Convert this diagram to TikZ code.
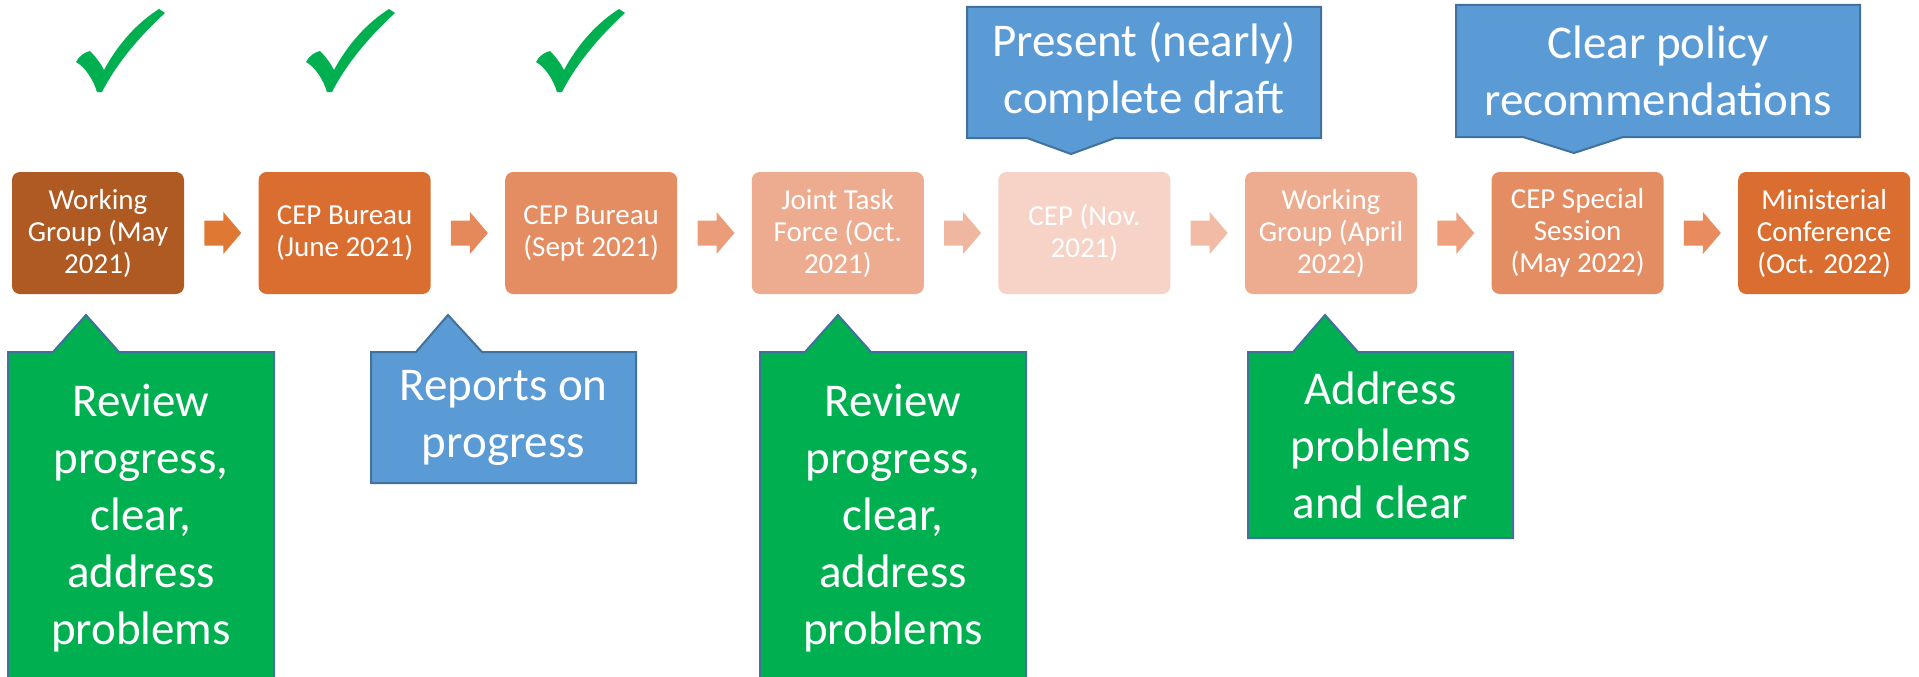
\documentclass[tikz,border=0pt]{standalone}
\usepackage{fontspec}
\setmainfont{Carlito}
\usetikzlibrary{calc}
\definecolor{cA}{HTML}{AE5A22}
\definecolor{cB}{HTML}{D96E30}
\definecolor{cC}{HTML}{E48C62}
\definecolor{cD}{HTML}{EDAB8F}
\definecolor{cE}{HTML}{F6D3C6}
\definecolor{aA}{HTML}{DF7833}
\definecolor{aB}{HTML}{E5895B}
\definecolor{aC}{HTML}{EB9D7A}
\definecolor{aD}{HTML}{F0B7A0}
\definecolor{aE}{HTML}{F2BBA6}
\definecolor{aF}{HTML}{EEA07F}
\definecolor{aG}{HTML}{E88B5E}
\definecolor{cblue}{HTML}{5B9BD5}
\definecolor{cgreen}{HTML}{00B050}
\definecolor{cedge}{HTML}{41719C}
\begin{document}
\begin{tikzpicture}[x=1pt,y=-1pt,
  stage/.style={rounded corners=8pt, minimum width=172pt, minimum height=122pt,
    align=center, text=white, font=\fontsize{29}{32}\selectfont, inner sep=0pt},
  calltext/.style={align=center, text=white, font=\fontsize{47}{57}\selectfont, inner sep=0pt},
  bluecall/.style={fill=cblue, draw=cedge, line width=2pt},
  greencall/.style={fill=cgreen, draw=cedge, line width=2pt},
  checkmk/.style={fill=cgreen}]
\clip (0,0) rectangle (1919,677);
\fill[white] (0,0) rectangle (1919,677);

% stages
\node[stage, fill=cA] (s1) at (98,233)     {Working\\Group (May\\2021)};
\node[stage, fill=cB] (s2) at (344.6,233)  {CEP Bureau\\(June 2021)};
\node[stage, fill=cC] (s3) at (591.2,233)  {CEP Bureau\\(Sept 2021)};
\node[stage, fill=cD] (s4) at (837.8,233)  {Joint Task\\Force (Oct.\\2021)};
\node[stage, fill=cE] (s5) at (1084.4,233) {CEP (Nov.\\2021)};
\node[stage, fill=cD] (s6) at (1331,233)   {Working\\Group (April\\2022)};
\node[stage, fill=cC] (s7) at (1577.6,233) {CEP Special\\Session\\(May 2022)};
\node[stage, fill=cB] (s8) at (1824.2,233) {Ministerial\\Conference\\(Oct. 2022)};

% arrows
\foreach \a/\b/\c in {s1/s2/aA, s2/s3/aB, s3/s4/aC, s4/s5/aD, s5/s6/aE, s6/s7/aF, s7/s8/aG}{
  \coordinate (m) at ($(\a.east)!0.5!(\b.west)$);
  \begin{scope}[shift={(m)}]
    \fill[\c] (-17,-12.5) -- (2,-12.5) -- (2,-21) -- (20,0) -- (2,21) -- (2,12.5) -- (-17,12.5) -- cycle;
  \end{scope}
}

% check marks
\foreach \dx in {0,230,460}{
  \begin{scope}[xshift=\dx]
  \fill[checkmk] (97,92) .. controls (93,79) and (85,67) .. (76,62)
    .. controls (79,56) and (85,52) .. (90,51)
    .. controls (96,57) and (101,64) .. (104,70)
    .. controls (118,44) and (137,23) .. (159,9)
    -- (165,13)
    .. controls (139,37) and (117,63) .. (102,92) -- cycle;
  \end{scope}
}

% top callouts
\path[bluecall] (967,7) -- (1321,7) -- (1321,138) -- (1115,138) -- (1071,154) -- (1027,138) -- (967,138) -- cycle;
\node[calltext] (t1) at (1144,72) {Present (nearly)\\complete draft};
\path[bluecall] (1456,5) -- (1860,5) -- (1860,137) -- (1623,137) -- (1574,153) -- (1523,137) -- (1456,137) -- cycle;
\node[calltext] (t2) at (1658,71) {Clear policy\\recommendations};

% bottom callouts
\path[greencall] (8,700) -- (8,352) -- (53,352) -- (86,315) -- (119,352) -- (274,352) -- (274,700) -- cycle;
\node[calltext] (b1) at (141,518) {Review\\progress,\\clear,\\address\\problems};

\path[bluecall] (371,483) -- (371,352) -- (416,352) -- (448,315) -- (482,352) -- (636,352) -- (636,483) -- cycle;
\node[calltext] (b2) at (503.5,417.5) {Reports on\\progress};

\path[greencall] (760,700) -- (760,352) -- (805,352) -- (838,315) -- (871,352) -- (1026,352) -- (1026,700) -- cycle;
\node[calltext] (b3) at (893,518) {Review\\progress,\\clear,\\address\\problems};

\path[greencall] (1248,538) -- (1248,352) -- (1293,352) -- (1325,315) -- (1358,352) -- (1513,352) -- (1513,538) -- cycle;
\node[calltext] (b4) at (1380.5,445) {Address\\problems\\and clear};
\end{tikzpicture}
\end{document}
